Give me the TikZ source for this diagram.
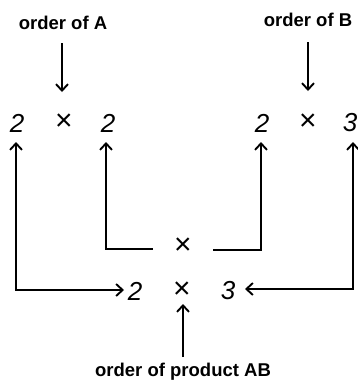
\documentclass[tikz,border=0pt]{standalone}
\usepackage{fontspec}
\setmainfont{Liberation Sans}
\usetikzlibrary{arrows.meta}
\begin{document}
\begin{tikzpicture}[x=1pt,y=-1pt,
  lbl/.style={font=\fontsize{18.5}{20}\selectfont\bfseries, inner sep=0pt},
  num/.style={font=\fontsize{26}{28}\selectfont\itshape, inner sep=0pt},
  tim/.style={font=\fontsize{30}{32}\selectfont, inner sep=0pt},
  conn/.style={line width=1.9pt, -{Straight Barb[length=6.5pt,width=12pt,line width=1.9pt]}},
  conn2/.style={line width=1.9pt, {Straight Barb[length=6.5pt,width=12pt,line width=1.9pt]}-{Straight Barb[length=6.5pt,width=12pt,line width=1.9pt]}},
  conn1/.style={line width=1.9pt, {Straight Barb[length=6.5pt,width=12pt,line width=1.9pt]}-}]
\useasboundingbox[fill=white] (0,0) rectangle (358,381);
\node[lbl] (oa) at (63,23) {order of A};
\node[lbl] (ob) at (308,20) {order of B};
\node[num] (a1) at (17,123) {2};
\node[tim] (ax) at (64,122) {×};
\node[num] (a2) at (108,123) {2};
\node[num] (b1) at (262,123) {2};
\node[tim] (bx) at (308,122) {×};
\node[num] (b2) at (350,123) {3};
\node[tim] (mx) at (183,246) {×};
\node[num] (c1) at (135,291) {2};
\node[tim] (cx) at (182,290) {×};
\node[num] (c2) at (228,291) {3};
\node[lbl] (op) at (183,372) {order of product AB};
\coordinate (oat) at (62,43);
\coordinate (oah) at (62,92);
\coordinate (obt) at (308,42);
\coordinate (obh) at (308,91);
\draw[conn] (oat) -- (oah);
\draw[conn] (obt) -- (obh);
\coordinate (a1t) at (16,142);
\coordinate (c1h) at (124,290);
\draw[conn2] (a1t) |- (c1h);
\coordinate (a2t) at (106,142);
\coordinate (m1) at (153,249);
\draw[conn1] (a2t) |- (m1);
\coordinate (b1t) at (261,142);
\coordinate (m2) at (213,250);
\draw[conn1] (b1t) |- (m2);
\coordinate (b2t) at (353,142);
\coordinate (c2h) at (245,289);
\draw[conn2] (b2t) |- (c2h);
\coordinate (opt) at (183,357);
\coordinate (oph) at (183,304);
\draw[conn] (opt) -- (oph);
\end{tikzpicture}
\end{document}
